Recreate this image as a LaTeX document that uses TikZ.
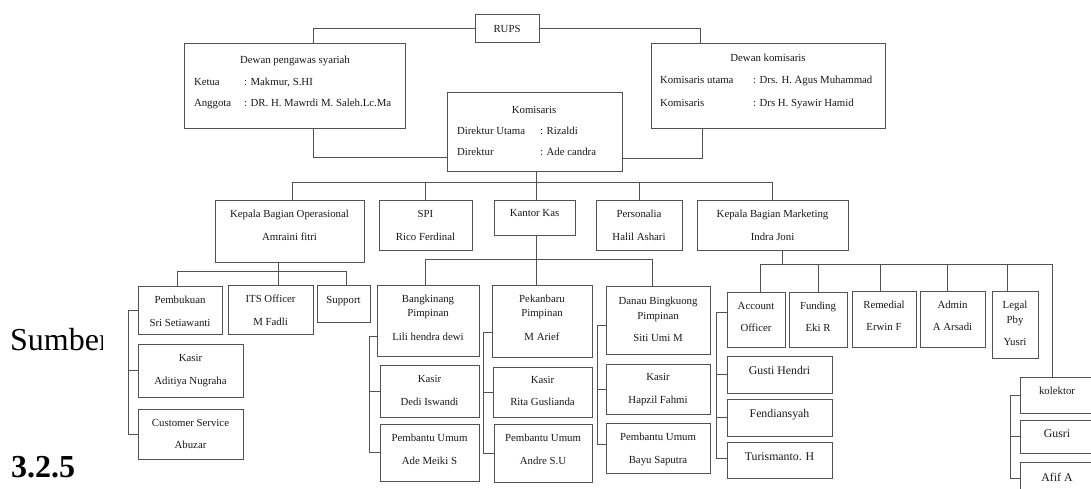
\documentclass[tikz,border=0pt]{standalone}
\usepackage{fontspec}
\setmainfont{Liberation Serif}
\tikzset{
 ln/.style={draw=black!68, line width=1pt},
 box/.style={draw=black!68, line width=1pt, anchor=north west, inner sep=0pt, outer sep=0pt},
 txt/.style={inner sep=0pt, outer sep=0pt, text height=7.1pt, text depth=0pt, font=\fontsize{10.8}{12}\selectfont, text=black!90},
 txtb/.style={txt, font=\fontsize{11.8}{13}\selectfont},
 txtl/.style={txt, anchor=west},
}
\newcommand\BX[5]{\node[box,minimum width=#4pt,minimum height=#5pt] (#1) at (#2,#3) {};}
\newcommand\TX[4]{\node[txt] (#1) at (#2,#3) {#4};}
\newcommand\TB[4]{\node[txtb] (#1) at (#2,#3) {#4};}
\newcommand\TL[4]{\node[txtl] (#1) at (#2,#3) {#4};}
\begin{document}
\begin{tikzpicture}[x=1pt,y=-1pt]
\useasboundingbox (0,0) rectangle (1091,489);
\clip (0,0) rectangle (1091,489);
\fill[white] (0,0) rectangle (1091,489);
% left page text
\begin{scope}
\clip (0,300) rectangle (102,370);
\node[anchor=base west, inner sep=0pt, font=\fontsize{32}{36}\selectfont] (sumber) at (10,350) {Sumber};
\end{scope}
\node[anchor=base west, inner sep=0pt, font=\fontsize{32}{36}\selectfont\bfseries] (sec) at (11,477) {3.2.5};
% boxes
\BX{rups}{475}{15}{64}{28}
\BX{dps}{184}{44}{221}{85}
\BX{dk}{651}{44}{234}{85}
\BX{kom}{447}{93}{175}{79}
\BX{kbo}{215}{200}{149}{62}
\BX{spi}{379}{200}{93}{50}
\BX{kas}{494}{200}{81}{35}
\BX{pers}{596}{200}{86}{50}
\BX{kbm}{697}{200}{151}{50}
\BX{pemb}{138}{286}{84}{48}
\BX{its}{228}{285}{85}{49}
\BX{sup}{317}{285}{53}{37}
\BX{kasir1}{138}{344}{105}{53}
\BX{cs}{138}{409}{105}{50}
\BX{bang}{377}{285}{102}{71}
\BX{kasir2}{380}{365}{99}{52}
\BX{pu1}{380}{424}{99}{57}
\BX{pek}{492}{285}{100}{72}
\BX{kasir3}{493}{367}{99}{50}
\BX{pu2}{494}{424}{98}{58}
\BX{danau}{606}{286}{104}{68}
\BX{kasir4}{606}{364}{104}{50}
\BX{pu3}{606}{423}{104}{50}
\BX{ao}{727}{292}{58}{55}
\BX{fund}{789}{292}{58}{55}
\BX{rem}{852}{291}{64}{56}
\BX{adm}{920}{291}{65}{56}
\BX{legal}{992}{291}{46}{67}
\BX{gusti}{727}{356}{105}{37}
\BX{fend}{727}{399}{105}{37}
\BX{turis}{727}{442}{105}{36}
\BX{kol}{1020}{377}{80}{36}
\BX{gusri}{1020}{420}{80}{33}
\BX{afif}{1020}{462}{80}{40}
% texts
\TX{t1}{507}{29}{RUPS}
\TX{t2}{295}{60}{Dewan pengawas syariah}
\TL{t3}{194}{82}{Ketua}
\TL{t4}{244}{82}{: Makmur, S.HI}
\TL{t5}{194}{103}{Anggota}
\TL{t6}{244}{103}{: DR. H. Mawrdi M. Saleh.Lc.Ma}
\TX{t7}{768}{58}{Dewan komisaris}
\TL{t8}{660}{80}{Komisaris utama}
\TL{t9}{753}{80}{: Drs. H. Agus Muhammad}
\TL{t10}{660}{103}{Komisaris}
\TL{t11}{753}{103}{: Drs H. Syawir Hamid}
\TX{t12}{534}{110}{Komisaris}
\TL{t13}{457}{131}{Direktur Utama}
\TL{t14}{540}{131}{: Rizaldi}
\TL{t15}{457}{152}{Direktur}
\TL{t16}{540}{152}{: Ade candra}
\TX{t17}{289.5}{214}{Kepala Bagian Operasional}
\TX{t18}{289.5}{237}{Amraini fitri}
\TX{t19}{425.5}{214}{SPI}
\TX{t20}{425.5}{237}{Rico Ferdinal}
\TX{t21}{534.5}{213}{Kantor Kas}
\TX{t22}{639}{214}{Personalia}
\TX{t23}{639}{237}{Halil Ashari}
\TX{t24}{772.5}{214}{Kepala Bagian Marketing}
\TX{t25}{772.5}{237}{Indra Joni}
\TX{t26}{180}{300}{Pembukuan}
\TX{t27}{180}{323}{Sri Setiawanti}
\TX{t28}{270.5}{299}{ITS Officer}
\TX{t29}{270.5}{322}{M Fadli}
\TX{t30}{343.5}{300}{Support}
\TX{t31}{190.5}{358}{Kasir}
\TX{t32}{190.5}{381}{Aditiya Nugraha}
\TX{t33}{190.5}{423}{Customer Service}
\TX{t34}{190.5}{445}{Abuzar}
\TX{t35}{428}{299}{Bangkinang}
\TX{t36}{428}{313}{Pimpinan}
\TX{t37}{428}{337}{Lili hendra dewi}
\TX{t38}{429.5}{379}{Kasir}
\TX{t39}{429.5}{402}{Dedi Iswandi}
\TX{t40}{429.5}{438}{Pembantu Umum}
\TX{t41}{429.5}{461}{Ade Meiki S}
\TX{t42}{542}{299}{Pekanbaru}
\TX{t43}{542}{313}{Pimpinan}
\TX{t44}{542}{337}{M Arief}
\TX{t45}{542.5}{380}{Kasir}
\TX{t46}{542.5}{402}{Rita Guslianda}
\TX{t47}{543}{438}{Pembantu Umum}
\TX{t48}{543}{461}{Andre S.U}
\TX{t49}{658}{301}{Danau Bingkuong}
\TX{t50}{658}{316}{Pimpinan}
\TX{t51}{658}{338}{Siti Umi M}
\TX{t52}{658}{377}{Kasir}
\TX{t53}{658}{400}{Hapzil Fahmi}
\TX{t54}{658}{437}{Pembantu Umum}
\TX{t55}{658}{460}{Bayu Saputra}
\TX{t56}{756}{306}{Account}
\TX{t57}{756}{328}{Officer}
\TX{t58}{818}{306}{Funding}
\TX{t59}{818}{328}{Eki R}
\TX{t60}{884}{305}{Remedial}
\TX{t61}{884}{327}{Erwin F}
\TX{t62}{952.5}{305}{Admin}
\TX{t63}{952.5}{327}{A Arsadi}
\TX{t64}{1015}{305}{Legal}
\TX{t65}{1015}{320}{Pby}
\TX{t66}{1015}{342}{Yusri}
\TB{t67}{779.5}{371}{Gusti Hendri}
\TB{t68}{779.5}{414}{Fendiansyah}
\TB{t69}{779.5}{457}{Turismanto. H}
\TX{t70}{1057}{391}{kolektor}
\TB{t71}{1057}{434}{Gusri}
\TB{t72}{1057}{478}{Afif A}
% connectors top
\draw[ln] (rups.west) -| ([xshift=18.5pt]dps.north);
\draw[ln] (rups.east) -| ([xshift=-68pt]dk.north);
\draw[ln] ([xshift=18.5pt]dps.south) |- ([yshift=-25.5pt]kom.west);
\draw[ln] ([xshift=-66pt]dk.south) |- ([yshift=-26.5pt]kom.east);
\draw[ln] ([xshift=1.5pt]kom.south) -- ([xshift=1.5pt]kas.north);
\coordinate (b1) at (0,182);
\draw[ln] ([xshift=2.5pt]kbo.north) |- (b1 -| kbm.north) -- (kbm.north);
\draw[ln] (spi.north) -- (spi.north |- b1);
\draw[ln] (pers.north) -- (pers.north |- b1);
% operasional subtree
\coordinate (b2) at (0,271);
\coordinate (dpemb) at ([xshift=-3pt]pemb.north);
\coordinate (dits) at ([xshift=7.5pt]its.north);
\coordinate (dsup) at ([xshift=2.5pt]sup.north);
\draw[ln] (kbo.south -| dits) -- (dits);
\draw[ln] (dpemb) |- (b2 -| dsup) -- (dsup);
\coordinate (lb1) at (128,0);
\draw[ln] (pemb.west) -- (pemb.west -| lb1) -- (cs.west -| lb1) -- (cs.west);
\draw[ln] (kasir1.west) -- (kasir1.west -| lb1);
% kantor kas subtree
\coordinate (b3) at (0,259);
\coordinate (dbang) at ([xshift=-3pt]bang.north);
\coordinate (dpek) at ([xshift=-6pt]pek.north);
\coordinate (ddan) at ([xshift=-6pt]danau.north);
\draw[ln] (kas.south -| dpek) -- (dpek);
\draw[ln] (dbang) |- (b3 -| ddan) -- (ddan);
\coordinate (lb2) at (369,0);
\draw[ln] ([yshift=-15.5pt]bang.west) -| (pu1.west -| lb2) -- (pu1.west);
\draw[ln] (kasir2.west) -- (kasir2.west -| lb2);
\coordinate (lb3) at (483,0);
\draw[ln] ([yshift=-11pt]pek.west) -| (pu2.west -| lb3) -- (pu2.west);
\draw[ln] (kasir3.west) -- (kasir3.west -| lb3);
\coordinate (lb4) at (597,0);
\coordinate (pu3t) at ([yshift=4pt]pu3.west);
\draw[ln] ([yshift=-5pt]danau.west) -| (pu3t -| lb4) -- (pu3t);
\draw[ln] (kasir4.west) -- (kasir4.west -| lb4);
% marketing subtree
\coordinate (b4) at (0,264);
\coordinate (dkbm) at ([xshift=9.5pt]kbm.south);
\coordinate (dao) at ([xshift=4pt]ao.north);
\coordinate (dkol) at ([xshift=-8pt]kol.north);
\coordinate (drem) at ([xshift=-4pt]rem.north);
\coordinate (dadm) at ([xshift=-5.5pt]adm.north);
\coordinate (dleg) at ([xshift=-8pt]legal.north);
\draw[ln] (dkbm) -- (dkbm |- b4);
\draw[ln] (dao) |- (b4 -| dkol) -- (dkol);
\draw[ln] (fund.north) -- (fund.north |- b4);
\draw[ln] (drem) -- (drem |- b4);
\draw[ln] (dadm) -- (dadm |- b4);
\draw[ln] (dleg) -- (dleg |- b4);
\coordinate (lb5) at (716,0);
\coordinate (aot) at ([yshift=7.5pt]ao.west);
\coordinate (tut) at ([yshift=2pt]turis.west);
\draw[ln] (aot) -| (tut -| lb5) -- (tut);
\draw[ln] (gusti.west) -- (gusti.west -| lb5);
\draw[ln] (fend.west) -- (fend.west -| lb5);
\coordinate (lb6) at (1010,0);
\coordinate (aft) at ([yshift=4pt]afif.west);
\draw[ln] (kol.west) -| (aft -| lb6) -- (aft);
\draw[ln] (gusri.west) -- (gusri.west -| lb6);
\end{tikzpicture}
\end{document}
